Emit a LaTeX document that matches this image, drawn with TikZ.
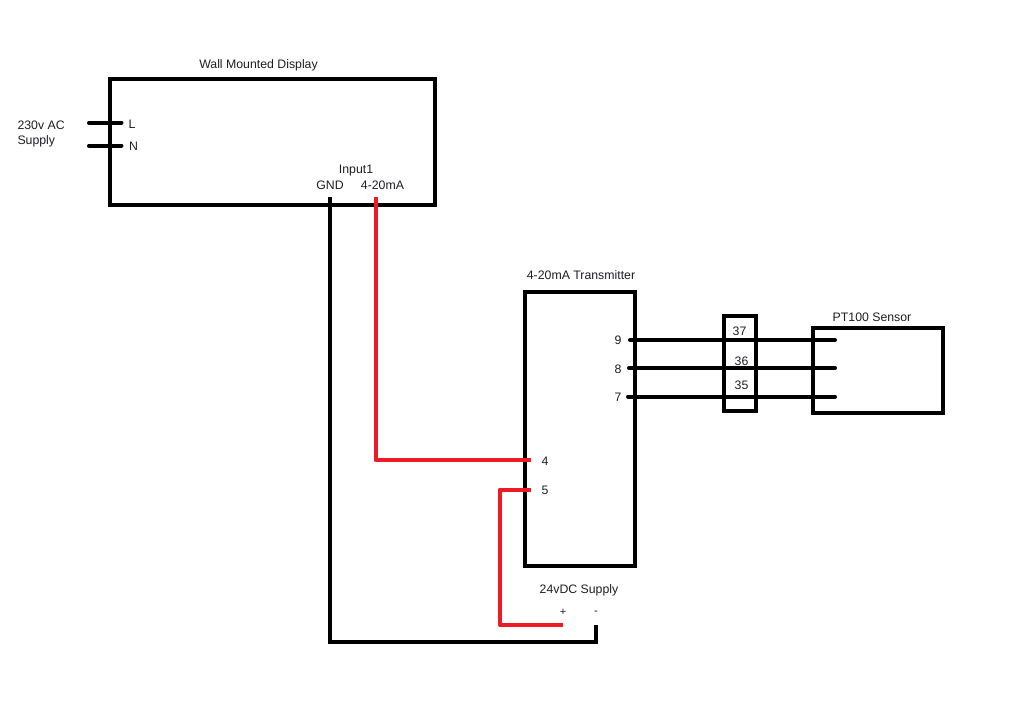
\documentclass[tikz,border=0pt]{standalone}
\usepackage{fontspec}
\setmainfont{Liberation Sans}
\definecolor{wirered}{RGB}{237,28,36}
\definecolor{labelink}{RGB}{30,30,40}
\tikzset{
  x=1pt,y=-1pt,
  box/.style={draw=black,line width=4pt,fill=none,inner sep=0pt,outer sep=0pt,rectangle},
  blackwire/.style={draw=black,line width=4pt,line join=miter},
  capwire/.style={blackwire,line cap=round},
  redwire/.style={draw=wirered,line width=4pt,line join=round},
  lbl/.style={font=\fontsize{12.3}{15}\selectfont,text=labelink,inner sep=0pt,outer sep=0pt}
}
\begin{document}
\begin{tikzpicture}
\useasboundingbox (0,0) rectangle (1024,704);
\fill[white] (0,0) rectangle (1024,704);
% boxes
\node[box,minimum width=325pt,minimum height=126pt] (display) at (272.5,142) {};
\node[box,minimum width=110pt,minimum height=274pt] (transmitter) at (579.5,428.5) {};
\node[box,minimum width=32pt,minimum height=95pt] (terminal) at (740,363.5) {};
\node[box,minimum width=130pt,minimum height=85pt] (sensor) at (878,370.5) {};
% free ends
\coordinate (Lout) at (89,122.5); \coordinate (Lin) at (121.5,122.5);
\coordinate (Nout) at (89,145.5); \coordinate (Nin) at (121.5,145.5);
\coordinate (gndtop) at (330,197); \coordinate (gndlow) at (330,642);
\coordinate (minuslow) at (596,642); \coordinate (minustop) at (596,625);
\coordinate (sigtop) at (375.5,197); \coordinate (sigcorner) at (375.5,460);
\coordinate (sigend) at (531,460);
\coordinate (pw5) at (531,489.5); \coordinate (pwc1) at (500,489.5);
\coordinate (pwc2) at (500,625); \coordinate (pwplus) at (563,625);
\coordinate (t9) at (630,340); \coordinate (s9) at (835,340);
\coordinate (t8) at (629,368); \coordinate (s8) at (835,368);
\coordinate (t7) at (628,396.5); \coordinate (s7) at (835,396.5);
% wires
\draw[capwire] (Lout) -- (Lin);
\draw[capwire] (Nout) -- (Nin);
\draw[blackwire] (gndtop) -- (gndlow) -- (minuslow) -- (minustop);
\draw[redwire] (sigtop) -- (sigcorner) -- (sigend);
\draw[redwire] (pw5) -- (pwc1) -- (pwc2) -- (pwplus);
\draw[capwire] (t9) -- (s9);
\draw[capwire] (t8) -- (s8);
\draw[capwire] (t7) -- (s7);
% labels
\node[lbl] (tDisplay) at (258.5,65.5) {Wall Mounted Display};
\node[lbl,align=left,anchor=north west] (tSupply) at (17.5,121) {230v AC\\Supply};
\node[lbl] (tL) at (132,124) {L};
\node[lbl] (tN) at (133.5,146.5) {N};
\node[lbl] (tInput) at (356,171) {Input1};
\node[lbl] (tGND) at (330,185) {GND};
\node[lbl] (tmA) at (382.5,185) {4-20mA};
\node[lbl] (tTrans) at (581,275.5) {4-20mA Transmitter};
\node[lbl] (t9l) at (618,340) {9};
\node[lbl] (t8l) at (618,369) {8};
\node[lbl] (t7l) at (618,397) {7};
\node[lbl] (t37) at (739.5,331.5) {37};
\node[lbl] (t36) at (741.5,361) {36};
\node[lbl] (t35) at (741.5,385.5) {35};
\node[lbl] (tPT) at (872,317) {PT100 Sensor};
\node[lbl] (t4) at (545,461) {4};
\node[lbl] (t5) at (545,490) {5};
\node[lbl] (tDC) at (579,590) {24vDC Supply};
\node[lbl,font=\fontsize{11}{13}\selectfont] (tplus) at (563,612.5) {+};
\node[lbl,font=\fontsize{11}{13}\selectfont] (tminus) at (596,613) {-};
\end{tikzpicture}
\end{document}
